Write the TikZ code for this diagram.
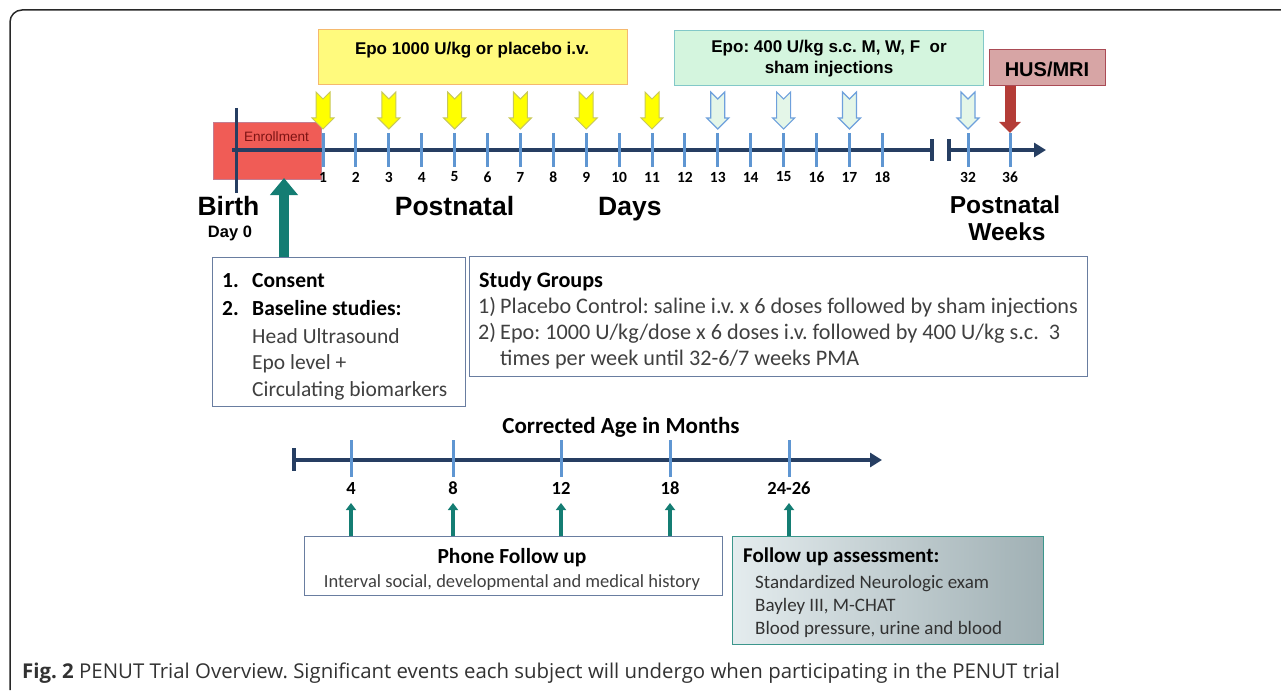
\documentclass[tikz,border=0pt]{standalone}
\usepackage{fontspec}
\setmainfont{Carlito}
\newfontfamily\arialfont{Liberation Sans}
\newfontfamily\capfont{Open Sans}
\usetikzlibrary{arrows.meta,calc}
\definecolor{navy}{RGB}{38,62,98}
\definecolor{tickblue}{RGB}{95,150,210}
\definecolor{enrfill}{RGB}{240,92,86}
\definecolor{enrdraw}{RGB}{195,125,145}
\definecolor{enrtext}{RGB}{125,20,20}
\definecolor{yelfill}{RGB}{255,250,125}
\definecolor{yeldraw}{RGB}{245,185,110}
\definecolor{grnfill}{RGB}{212,245,222}
\definecolor{grndraw}{RGB}{130,200,200}
\definecolor{husfill}{RGB}{215,165,165}
\definecolor{husdraw}{RGB}{170,75,85}
\definecolor{redarrow}{RGB}{180,60,55}
\definecolor{doseyel}{RGB}{255,255,0}
\definecolor{doseyeldraw}{RGB}{200,200,90}
\definecolor{doselt}{RGB}{228,246,232}
\definecolor{doseltdraw}{RGB}{110,160,220}
\definecolor{tealc}{RGB}{20,125,115}
\definecolor{boxblue}{RGB}{105,125,160}
\definecolor{bodygray}{RGB}{64,64,64}
\definecolor{fuleft}{RGB}{228,236,238}
\definecolor{furight}{RGB}{160,176,180}
\definecolor{fudraw}{RGB}{60,150,140}
\definecolor{framec}{RGB}{40,40,40}
\definecolor{capgray}{RGB}{50,50,50}
\newcommand\fsz[1]{\fontsize{#1}{#1}\selectfont}
\newcommand\fszl[2]{\fontsize{#1}{#2}\selectfont}
\begin{document}
\frenchspacing
\begin{tikzpicture}[x=1pt,y=-1pt,
  tline/.style={line width=4pt, draw=navy},
  tickmark/.style={line width=3pt, draw=tickblue},
  daynum/.style={font=\bfseries\fsz{15.5}, anchor=center, inner sep=0pt},
  monnum/.style={font=\bfseries\fsz{18.5}, anchor=center, inner sep=0pt},
  bigword/.style={font=\arialfont\bfseries\fsz{26.5}, anchor=base, inner sep=0pt},
  topbox/.style={line width=1.3pt, inner sep=0pt, anchor=north west},
  toptext/.style={font=\arialfont\bfseries\fsz{17}, inner sep=0pt, align=center},
  txtbox/.style={draw=boxblue, line width=1.3pt, fill=white, inner sep=0pt, anchor=north west},
  bline/.style={font=\bfseries\fsz{21.5}, anchor=base west, inner sep=0pt},
  rline/.style={font=\fsz{21.5}, text=bodygray, anchor=base west, inner sep=0pt},
  sline/.style={font=\fsz{22.2}, text=bodygray, anchor=base west, inner sep=0pt},
  dose/.pic={\path[pic actions] (-7,-37) -- (0,-30) -- (7,-37) -- (7,-11) -- (11,-11) -- (0,0) -- (-11,-11) -- (-7,-11) -- cycle;},
  yeldose/.style={fill=doseyel, draw=doseyeldraw, line width=1pt},
  ltdose/.style={fill=doselt, draw=doseltdraw, line width=1.2pt},
  tealsmall/.style={draw=tealc, line width=3.5pt, -{Triangle[width=10pt,length=7pt]}},
]
\useasboundingbox (0,0) rectangle (1281,690);
% frame
\draw[framec, line width=1.5pt, rounded corners=12pt] (10,690) -- (10,10) -- (1281,10);

% top boxes
\node[topbox, draw=yeldraw, fill=yelfill, minimum width=309pt, minimum height=55pt] (ybox) at (318,29) {};
\node[toptext] (ytxt) at (472,50) {Epo 1000 U/kg or placebo i.v.};
\node[topbox, draw=grndraw, fill=grnfill, minimum width=309pt, minimum height=55pt] (gbox) at (674,30) {};
\node[toptext, font=\arialfont\bfseries\fszl{17}{21}] (gtxt) at (829,58.5) {Epo: 400 U/kg s.c. M, W, F\ \ or\\sham injections};
\node[topbox, draw=husdraw, fill=husfill, minimum width=116pt, minimum height=36pt] (hus) at (989,49) {};
\node[toptext, font=\arialfont\bfseries\fsz{20}] (hustxt) at (1047,69) {HUS/MRI};

% enrollment
\node[topbox, draw=enrdraw, fill=enrfill, minimum width=108pt, minimum height=57pt] (enr) at (213,122) {};
\node[font=\arialfont\fsz{13.6}, text=enrtext, inner sep=0pt] (enrtxt) at (276.5,137) {Enrollment};

% coordinates of day ticks
\foreach \n in {1,...,18}{\coordinate (d\n) at ({323+(\n-1)*32.9},150);}
\coordinate (w32) at (968,150);
\coordinate (w36) at (1010,150);
\coordinate (tlstart) at (232,150);
\coordinate (tlend) at (932,150);
\coordinate (tlwk) at (949,150);
\coordinate (tlarrow) at (1046,150);

% main timeline
\draw[tline] (tlstart) -- (tlend);
\draw[tline] ($(tlend)+(0,-11)$) -- ($(tlend)+(0,11)$);
\draw[tline] ($(tlwk)+(0,-11)$) -- ($(tlwk)+(0,11)$);
\draw[tline, -{Triangle[width=14pt,length=12pt]}] (tlwk) -- (tlarrow);
\draw[line width=3pt, draw=navy] (236,108) -- (236,193);

\foreach \n in {1,...,18}{
  \draw[tickmark] ($(d\n)+(0,-17)$) -- ($(d\n)+(0,17)$);
  \node[daynum] at ($(d\n)+(0,27)$) {\n};
}
\foreach \c/\t in {w32/32,w36/36}{
  \draw[tickmark] ($(\c)+(0,-17)$) -- ($(\c)+(0,17)$);
  \node[daynum] at ($(\c)+(0,27)$) {\t};
}

% dose arrows
\foreach \n in {1,3,5,7,9,11}{\pic[yeldose] at ($(d\n)+(0,-21)$) {dose};}
\foreach \c in {d13,d15,d17,w32}{\pic[ltdose] at ($(\c)+(0,-21)$) {dose};}
\coordinate (hustip) at (1010,133);
\draw[draw=redarrow, line width=11pt, -{Triangle[width=21pt,length=11pt]}] (hus.south -| hustip) -- (hustip);

% big words
\node[bigword] (birth) at (228.5,215) {Birth};
\node[font=\arialfont\bfseries\fsz{16.5}, anchor=base, inner sep=0pt] (day0) at (230,237) {Day 0};
\node[bigword] (pn1) at (454.5,215) {Postnatal};
\node[bigword, anchor=base west] (days) at (598,215) {Days};
\node[bigword, font=\arialfont\bfseries\fsz{24.5}] (pn2) at (1005,213) {Postnatal};
\node[bigword, font=\arialfont\bfseries\fsz{24.5}] (weeks) at (1007,240) {Weeks};

% consent box
\node[txtbox, minimum width=253pt, minimum height=149pt] (consent) at (212,257) {};
\coordinate (constip) at (284,178);
\draw[draw=tealc, line width=10pt, -{Triangle[width=27pt,length=17pt]}] (consent.north -| constip) -- (constip);
\node[bline] at (222,287) {1.};
\node[bline] at (252,287) {Consent};
\node[bline] at (222,315) {2.};
\node[bline] at (252,315) {Baseline studies:};
\node[rline] at (252,343) {Head Ultrasound};
\node[rline] at (252,369) {Epo level +};
\node[rline] at (252,396) {Circulating biomarkers};

% study groups
\node[txtbox, minimum width=618pt, minimum height=120pt] (study) at (469,256) {};
\node[bline, font=\bfseries\fsz{22.2}] at (479,287) {Study Groups};
\node[sline] at (478,313) {1)};
\node[sline] at (500,313) {Placebo Control: saline i.v. x 6 doses followed by sham injections};
\node[sline] at (478,339) {2)};
\node[sline] at (500,339) {Epo: 1000 U/kg/dose x 6 doses i.v. followed by 400 U/kg s.c.\ \ 3};
\node[sline] at (500,365) {times per week until 32-6/7 weeks PMA};

% months timeline
\node[font=\bfseries\fsz{23}, anchor=base, inner sep=0pt] (cam) at (621,433) {Corrected Age in Months};
\coordinate (m0) at (294,460);
\coordinate (mend) at (882,460);
\coordinate (m4) at (351,460);
\coordinate (m8) at (453,460);
\coordinate (m12) at (561,460);
\coordinate (m18) at (670,460);
\coordinate (m24) at (789,460);
\draw[tline, -{Triangle[width=14pt,length=12pt]}] (m0) -- (mend);
\draw[tline] ($(m0)+(0,-12)$) -- ($(m0)+(0,11)$);
\foreach \c/\t in {m4/4,m8/8,m12/12,m18/18,m24/24-26}{
  \draw[tickmark] ($(\c)+(0,-20)$) -- ($(\c)+(0,17)$);
  \node[monnum] at ($(\c)+(0,28)$) {\t};
}

% phone box
\node[txtbox, minimum width=418pt, minimum height=59pt] (phone) at (304,536) {};
\node[font=\bfseries\fsz{21.5}, anchor=base, inner sep=0pt] at (512,563) {Phone Follow up};
\node[font=\fsz{18.5}, text=bodygray, anchor=base, inner sep=0pt] at (512,587) {Interval social, developmental and medical history};

% follow up box
\node[anchor=north west, draw=fudraw, line width=1.3pt, left color=fuleft, right color=furight, minimum width=311pt, minimum height=108pt, inner sep=0pt] (follow) at (732,536) {};
\node[bline, font=\bfseries\fsz{21}] at (743,562) {Follow up assessment:};
\node[rline, font=\fsz{19}, text=capgray] at (755,588) {Standardized Neurologic exam};
\node[rline, font=\fsz{19}, text=capgray] at (755,611) {Bayley III, M-CHAT};
\node[rline, font=\fsz{19}, text=capgray] at (755,634) {Blood pressure, urine and blood};

\foreach \c in {m4,m8,m12,m18}{
  \draw[tealsmall] (phone.north -| \c) -- ($(\c)+(0,43)$);
}
\draw[tealsmall] (follow.north -| m24) -- ($(m24)+(0,43)$);

% caption
\node[anchor=base west, font=\capfont\fsz{20.4}, text=capgray, inner sep=0pt] (cap) at (22,678) {\textbf{Fig. 2} PENUT Trial Overview. Significant events each subject will undergo when participating in the PENUT trial};
\end{tikzpicture}
\end{document}
